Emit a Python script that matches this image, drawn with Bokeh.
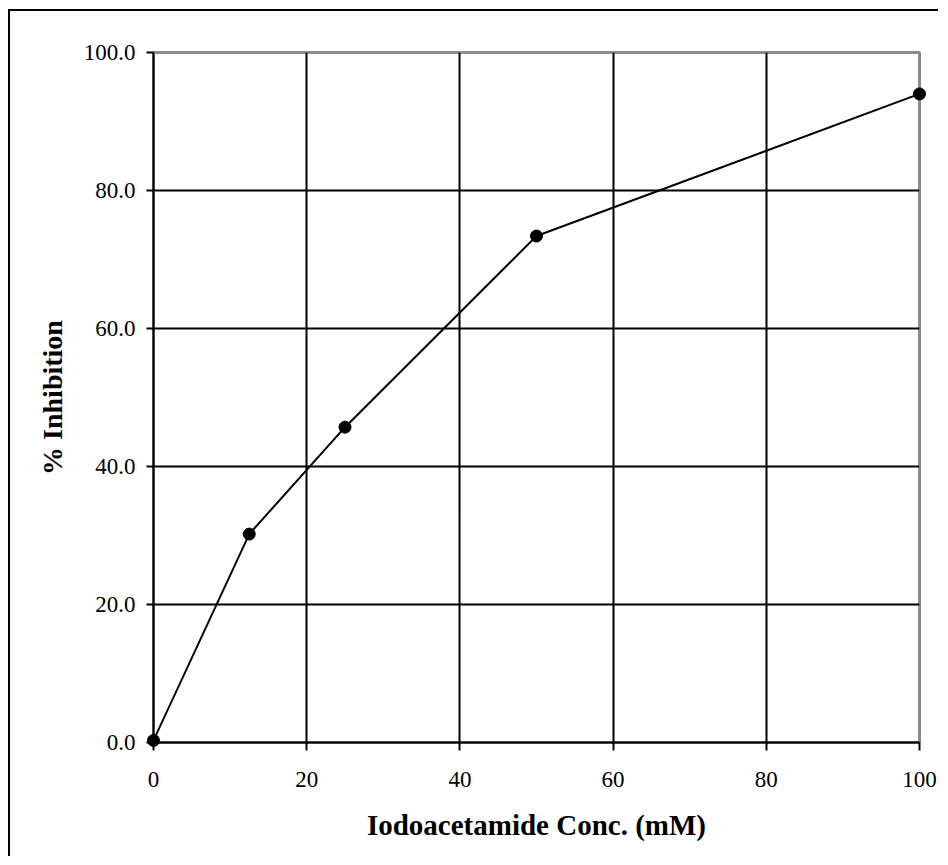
from bokeh.plotting import figure
from bokeh.models import Range1d, FixedTicker, CustomJSTickFormatter
from bokeh.embed import file_html
from bokeh.resources import INLINE

conc = [0, 12.5, 25, 50, 100]
inhibition = [0.3, 30.2, 45.7, 73.4, 94.0]
x_ticks = [0, 20, 40, 60, 80, 100]
y_ticks = [0, 20, 40, 60, 80, 100]
grid_y = [20, 40, 60, 80]
grid_x = [20, 40, 60, 80]

FONT = "Liberation Serif"

p = figure(width=930, height=847, output_backend="svg", toolbar_location=None,
           x_range=Range1d(0, 100), y_range=Range1d(0, 100),
           min_border_left=143, min_border_right=21, min_border_top=41, min_border_bottom=116)
p.styles = {"border-top": "2px solid black", "border-left": "2px solid black",
            "margin-left": "8px", "margin-top": "9px"}
p.background_fill_color = "white"
p.border_fill_color = "white"
p.outline_line_color = "#8c8c8c"
p.outline_line_width = 3

p.xaxis.ticker = FixedTicker(ticks=x_ticks)
p.yaxis.ticker = FixedTicker(ticks=y_ticks)
p.yaxis.formatter = CustomJSTickFormatter(code="return tick.toFixed(1);")
p.xgrid.ticker = FixedTicker(ticks=grid_x)
p.ygrid.ticker = FixedTicker(ticks=grid_y)
p.grid.grid_line_color = "black"
p.grid.grid_line_width = 2

for ax in (p.xaxis, p.yaxis):
    ax.axis_line_color = "black"
    ax.axis_line_width = 2
    ax.major_tick_line_color = "black"
    ax.major_tick_line_width = 2
    ax.major_tick_in = 0
    ax.minor_tick_line_color = None
    ax.major_label_text_font = FONT
    ax.major_label_text_font_size = "23px"
    ax.major_label_text_color = "black"
    ax.axis_label_text_font = FONT
    ax.axis_label_text_font_style = "bold"
    ax.axis_label_text_color = "black"

p.xaxis.axis_label_text_font_size = "29px"
p.yaxis.axis_label_text_font_size = "28px"
p.xaxis.major_tick_out = 8
p.yaxis.major_tick_out = 7
p.xaxis.major_label_standoff = 21
p.yaxis.major_label_standoff = 11
p.xaxis.axis_label = "Iodoacetamide Conc. (mM)"
p.yaxis.axis_label = "% Inhibition"
p.xaxis.axis_label_standoff = 19
p.yaxis.axis_label_standoff = 13

p.line(conc, inhibition, line_color="black", line_width=2)
p.scatter(conc, inhibition, size=12, fill_color="black", line_color="black", level="overlay")

open("out.html", "w").write(file_html(p, INLINE))
